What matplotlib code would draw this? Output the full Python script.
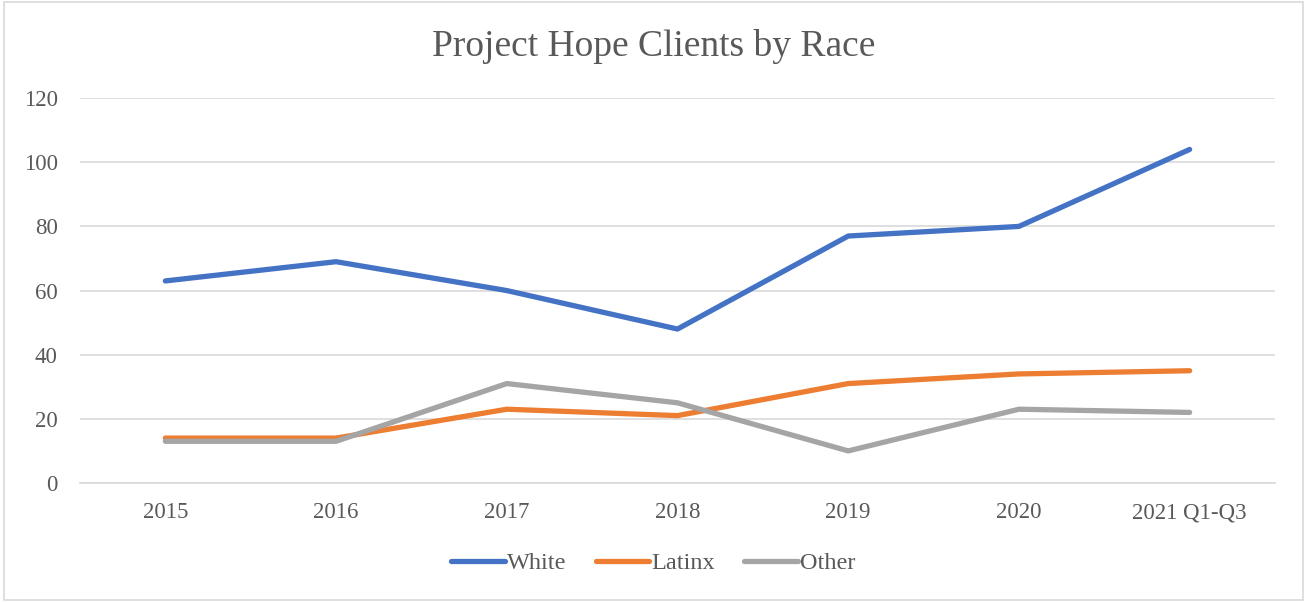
import matplotlib
matplotlib.use("Agg")
import matplotlib.pyplot as plt
from matplotlib.patches import Rectangle

anios = ["2015", "2016", "2017", "2018", "2019", "2020", "2021 Q1-Q3"]
white = [63, 69, 60, 48, 77, 80, 104]
latinx = [14, 14, 23, 21, 31, 34, 35]
other = [13, 13, 31, 25, 10, 23, 22]

plt.rcParams['font.family'] = ['Liberation Serif', 'DejaVu Serif']
gris_texto = '#595959'

fig = plt.figure(figsize=(13.07, 6.02), dpi=100)
ax = fig.add_axes([0.0612, 0.1977, 0.9143, 0.6393])

x = range(len(anios))
ax.plot(x, white, color='#4472C4', linewidth=3.8, solid_capstyle='round', label='White')
ax.plot(x, latinx, color='#ED7D31', linewidth=3.8, solid_capstyle='round', label='Latinx')
ax.plot(x, other, color='#A5A5A5', linewidth=3.8, solid_capstyle='round', label='Other')

ax.set_xlim(-0.5, len(anios) - 0.5)
ax.set_ylim(0, 120)
ax.set_yticks(range(0, 121, 20))
ax.set_xticks(list(x))
ax.set_xticklabels(anios)
ax.grid(axis='y', color='#D9D9D9', linewidth=1.2)
ax.set_axisbelow(True)
for s in ['top', 'right', 'left']:
    ax.spines[s].set_visible(False)
ax.spines['bottom'].set_color('#D9D9D9')
ax.spines['bottom'].set_linewidth(1.2)
ax.tick_params(axis='both', length=0, labelsize=16.5, colors=gris_texto)
ax.tick_params(axis='x', pad=14)
ax.tick_params(axis='y', pad=16)

fig.text(0.5, 0.922, 'Project Hope Clients by Race', ha='center', va='center',
         fontsize=27, color=gris_texto)

fig.legend(loc='center', bbox_to_anchor=(0.5, 0.064), ncol=3, frameon=False,
           fontsize=17.5, labelcolor=gris_texto, handlelength=2.2, handletextpad=0.1,
           columnspacing=1.2)

fig.patches.append(Rectangle((0.003, 0.003), 0.994, 0.994, transform=fig.transFigure,
                             fill=False, edgecolor='#D9D9D9', linewidth=1.2))

fig.savefig('out.png', dpi=100)
